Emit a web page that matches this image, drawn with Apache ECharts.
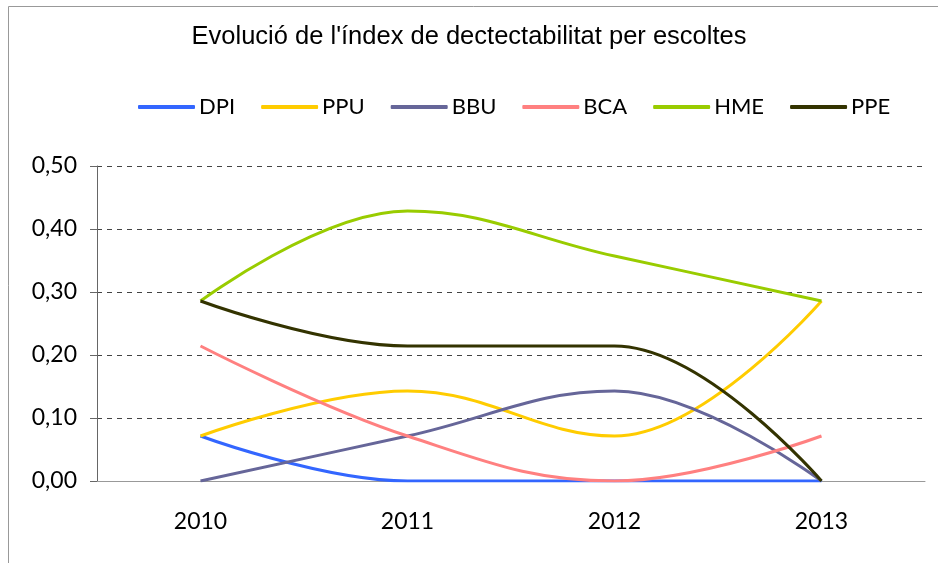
<!DOCTYPE html>
<html><head><meta charset="utf-8">
<script src="https://cdn.jsdelivr.net/npm/echarts@6/dist/echarts.min.js"></script>
<style>html,body{margin:0;padding:0;background:#fff;}#c{width:938px;height:563px;}</style>
</head><body><div id="c"></div>
<script>
const years = ['2010','2011','2012','2013'];
const seriesNames = ['DPI','PPU','BBU','BCA','HME','PPE'];
const DPI = [0.0714, 0, 0, 0];
const PPU = [0.0714, 0.1429, 0.0714, 0.2857];
const BBU = [0, 0.0714, 0.1429, 0];
const BCA = [0.2143, 0.0714, 0, 0.0714];
const HME = [0.2857, 0.4286, 0.3571, 0.2857];
const PPE = [0.2857, 0.2143, 0.2143, 0];
const colors = ['#3366FF','#FFCC00','#666699','#FF8080','#99CC00','#333300'];
const dataList = [DPI, PPU, BBU, BCA, HME, PPE];

const chart = echarts.init(document.getElementById('c'));
chart.setOption({
  animation: false,
  color: colors,
  graphic: [{type:'rect', shape:{x:8.5,y:6.5,width:1000,height:1000}, style:{fill:'none', stroke:'#999', lineWidth:1}, silent:true}],
  title: {text: "Evolució de l'índex de dectectabilitat per escoltes", left: 'center', top: 19,
    textStyle: {fontFamily: 'Liberation Sans', fontSize: 25.5, fontWeight: 'normal', color: '#000'}},
  legend: {top: 96, left: 138, padding: 0, itemGap: 26, itemWidth: 57, itemHeight: 4, icon: 'roundRect',
    textStyle: {fontFamily: 'Lato', fontSize: 22, color: '#000', padding: [0,0,0,-1]},
    data: seriesNames},
  grid: {left: 97, right: 13, top: 166, bottom: 82},
  xAxis: {type: 'category', data: years, boundaryGap: true,
    axisLine: {lineStyle: {color: '#999', width: 1}}, axisTick: {show: false},
    axisLabel: {fontFamily: 'Lato', fontSize: 23, color: '#000', margin: 29}},
  yAxis: {type: 'value', min: 0, max: 0.5, interval: 0.1,
    axisLine: {show: true, lineStyle: {color: '#666'}},
    axisTick: {show: true, length: 7, lineStyle: {color: '#666'}},
    axisLabel: {fontFamily: 'Lato', fontSize: 23, color: '#000', margin: 20,
      formatter: v => v.toFixed(2).replace('.', ',')},
    splitLine: {show: true, lineStyle: {color: '#444', type: [5,5], width: 1}}},
  series: seriesNames.map((n,i) => ({name: n, type: 'line', data: dataList[i], smooth: 0.4,
    symbol: 'none', lineStyle: {width: 3, color: colors[i]}, itemStyle: {color: colors[i]}}))
});
</script></body></html>
